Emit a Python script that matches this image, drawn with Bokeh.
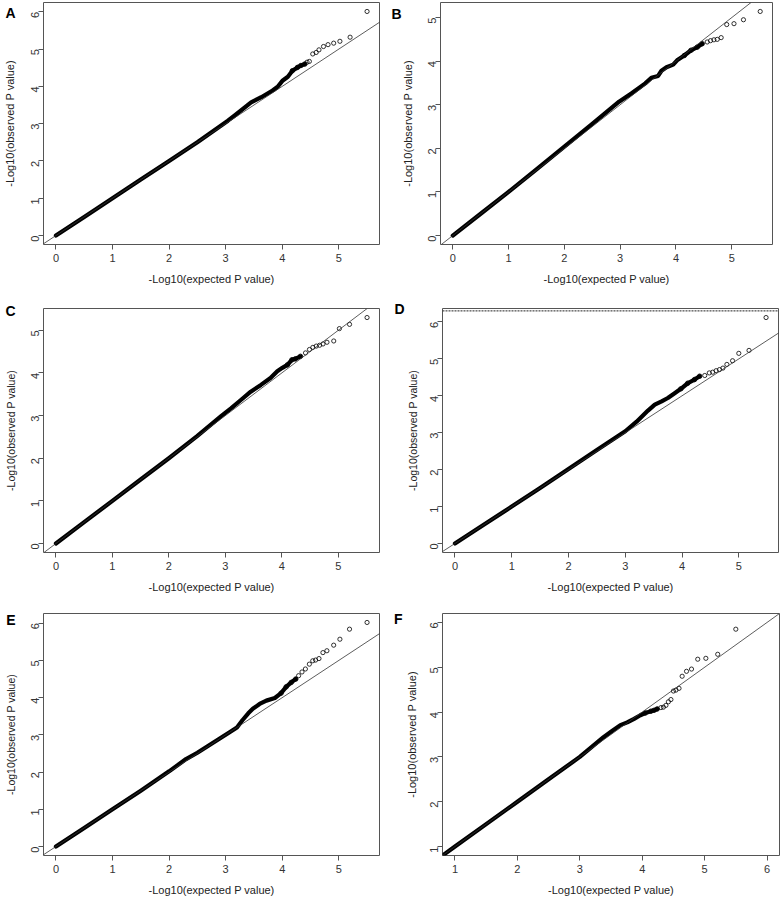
import math
from bokeh.plotting import figure
from bokeh.layouts import column, row
from bokeh.models import Slope, Span, Range1d, LinearAxis, FixedTicker, CustomJSTickFormatter
from bokeh.embed import file_html
from bokeh.resources import INLINE

FONT = "Liberation Sans"
X_TITLE = "-Log10(expected P value)"
Y_TITLE = "-Log10(observed P value)"

# ---------------- data ----------------
# dense part of each QQ curve (overlapping points) and sparse upper tail
a_body_exp = [0.0, 0.5, 1.0, 1.5, 2.0, 2.5, 3.04, 3.16, 3.45, 3.63, 3.83, 3.92, 4.01, 4.10, 4.18, 4.27, 4.33, 4.40]
a_body_obs = [0.0, 0.5, 1.0, 1.5, 2.0, 2.5, 3.08, 3.22, 3.57, 3.71, 3.89, 3.99, 4.16, 4.26, 4.42, 4.51, 4.56, 4.60]
a_tail_exp = [4.44, 4.48, 4.54, 4.60, 4.65, 4.73, 4.81, 4.91, 5.02, 5.20, 5.50]
a_tail_obs = [4.65, 4.67, 4.87, 4.91, 4.98, 5.07, 5.12, 5.16, 5.21, 5.32, 6.01]

b_body_exp = [0.0, 0.5, 1.0, 1.5, 2.0, 2.5, 2.98, 3.20, 3.45, 3.56, 3.68, 3.74, 3.83, 3.95, 4.02, 4.15, 4.27, 4.38, 4.47]
b_body_obs = [0.0, 0.5, 1.0, 1.52, 2.04, 2.56, 3.07, 3.26, 3.49, 3.62, 3.66, 3.78, 3.86, 3.92, 4.02, 4.13, 4.25, 4.32, 4.40]
b_tail_exp = [4.56, 4.62, 4.68, 4.74, 4.81, 4.91, 5.04, 5.21, 5.51]
b_tail_obs = [4.44, 4.47, 4.49, 4.50, 4.54, 4.84, 4.86, 4.95, 5.14]

c_body_exp = [0.0, 0.5, 1.0, 1.5, 2.0, 2.5, 2.92, 3.10, 3.27, 3.45, 3.63, 3.80, 3.92, 4.01, 4.10, 4.18, 4.24, 4.33]
c_body_obs = [0.0, 0.5, 1.0, 1.5, 2.0, 2.52, 2.98, 3.17, 3.36, 3.56, 3.72, 3.88, 4.04, 4.12, 4.19, 4.31, 4.33, 4.39]
c_tail_exp = [4.42, 4.49, 4.55, 4.61, 4.67, 4.73, 4.80, 4.92, 5.02, 5.20, 5.51]
c_tail_obs = [4.47, 4.55, 4.60, 4.63, 4.65, 4.68, 4.72, 4.75, 5.04, 5.14, 5.30]

d_body_exp = [0.0, 0.5, 1.0, 1.5, 2.0, 2.5, 3.0, 3.20, 3.40, 3.52, 3.64, 3.75, 3.87, 3.98, 4.10, 4.22, 4.31]
d_body_obs = [0.0, 0.5, 1.0, 1.5, 2.02, 2.53, 3.04, 3.30, 3.60, 3.76, 3.85, 3.94, 4.07, 4.19, 4.34, 4.44, 4.53]
d_tail_exp = [4.40, 4.48, 4.54, 4.60, 4.66, 4.72, 4.79, 4.89, 5.00, 5.18, 5.48]
d_tail_obs = [4.55, 4.62, 4.64, 4.68, 4.71, 4.75, 4.85, 4.95, 5.15, 5.23, 6.12]
d_threshold = 6.3

e_body_exp = [0.0, 0.5, 1.0, 1.5, 2.0, 2.3, 2.5, 3.07, 3.20, 3.30, 3.40, 3.48, 3.60, 3.72, 3.87, 3.98, 4.07, 4.16, 4.24]
e_body_obs = [0.0, 0.5, 1.0, 1.5, 2.02, 2.35, 2.52, 3.07, 3.20, 3.40, 3.58, 3.70, 3.83, 3.92, 3.99, 4.12, 4.29, 4.41, 4.50]
e_tail_exp = [4.29, 4.35, 4.41, 4.48, 4.54, 4.59, 4.65, 4.72, 4.79, 4.91, 5.02, 5.19, 5.50]
e_tail_obs = [4.59, 4.69, 4.77, 4.90, 4.99, 5.01, 5.05, 5.21, 5.26, 5.41, 5.57, 5.84, 6.02]

f_body_exp = [0.82, 1.0, 1.5, 2.0, 2.5, 3.0, 3.38, 3.50, 3.65, 3.76, 3.87, 3.97, 4.05, 4.14, 4.19, 4.24]
f_body_obs = [0.82, 1.0, 1.5, 2.0, 2.5, 3.0, 3.44, 3.56, 3.71, 3.77, 3.85, 3.93, 3.98, 4.02, 4.04, 4.07]
f_tail_exp = [4.30, 4.34, 4.38, 4.42, 4.46, 4.50, 4.54, 4.59, 4.64, 4.71, 4.79, 4.89, 5.02, 5.21, 5.50]
f_tail_obs = [4.10, 4.11, 4.15, 4.23, 4.28, 4.47, 4.49, 4.53, 4.80, 4.91, 4.96, 5.18, 5.20, 5.29, 5.85]
f_limits = [1.0, 6.0]

ticks_0_5 = [0, 1, 2, 3, 4, 5]
ticks_0_6 = [0, 1, 2, 3, 4, 5, 6]
ticks_1_6 = [1, 2, 3, 4, 5, 6]


def r_range(lo, hi):
    pad = 0.04 * (hi - lo)
    return Range1d(lo - pad, hi + pad)


def panel(letter, bx, by, tx, ty, xlim, ylim, xticks, yticks,
          geom, ytitle_size, letter_style, ytitle_standoff):
    b_left, frame_w, b_right, b_top, frame_h, b_bottom = geom
    yr = r_range(*ylim)
    p = figure(frame_width=frame_w, frame_height=frame_h,
               x_range=r_range(*xlim), y_range=yr,
               output_backend="svg", toolbar_location=None,
               min_border_left=b_left, min_border_right=b_right,
               min_border_top=b_top, min_border_bottom=b_bottom)
    p.grid.visible = False
    p.outline_line_color = "#555555"
    p.outline_line_width = 1
    p.background_fill_color = "white"
    p.border_fill_color = "white"

    xax = p.xaxis[0]
    yax = p.yaxis[0]
    for ax in (xax, yax):
        ax.axis_line_color = None
        ax.major_tick_line_color = "#555555"
        ax.major_tick_in = 0
        ax.major_tick_out = 5
        ax.minor_tick_line_color = None
        ax.major_label_text_font = FONT
        ax.major_label_text_font_size = "11px"
        ax.major_label_text_color = "#333333"
        ax.axis_label_text_font = FONT
        ax.axis_label_text_font_style = "normal"
        ax.axis_label_text_color = "#222222"
    xax.ticker = FixedTicker(ticks=xticks)
    yax.ticker = FixedTicker(ticks=yticks)
    xax.axis_label = X_TITLE
    xax.axis_label_text_font_size = "11px"
    xax.major_label_standoff = 4
    xax.axis_label_standoff = 8
    yax.major_label_orientation = math.pi / 2
    yax.major_label_standoff = 3

    # outer left axis: carries the panel letter (one label near the top) and the y title
    letter_dy_px, letter_standoff = letter_style
    span = yr.end - yr.start
    letter_at = yr.end - letter_dy_px * span / frame_h
    outer = LinearAxis(ticker=FixedTicker(ticks=[letter_at]),
                       formatter=CustomJSTickFormatter(code="return '%s'" % letter),
                       axis_line_color=None, major_tick_line_color=None,
                       major_tick_in=0, major_tick_out=0,
                       minor_tick_line_color=None,
                       major_label_standoff=letter_standoff,
                       major_label_orientation="horizontal",
                       major_label_text_font=FONT, major_label_text_font_size="14px",
                       major_label_text_font_style="bold", major_label_text_color="black",
                       axis_label=Y_TITLE, axis_label_text_font=FONT,
                       axis_label_text_font_size=ytitle_size,
                       axis_label_text_font_style="normal",
                       axis_label_text_color="#222222",
                       axis_label_standoff=ytitle_standoff)
    p.add_layout(outer, "left")

    p.add_layout(Slope(gradient=1, y_intercept=0, line_color="#333333", line_width=0.8))
    p.line(bx, by, line_width=4.2, line_color="black", line_cap="round", line_join="round")
    p.scatter(bx[-4:], by[-4:], marker="circle", size=4.5, fill_color=None,
              line_color="black", line_width=0.9)
    p.scatter(tx, ty, marker="circle", size=4.2, fill_color=None,
              line_color="black", line_width=0.8)
    return p


#          left, frame_w, right, top, frame_h, bottom
geom_a = (43, 336, 11, 2, 242, 54)
geom_b = (50, 332, 8, 2, 242, 54)
geom_c = (43, 336, 11, 10, 244, 51)
geom_d = (52, 336, 2, 10, 244, 51)
geom_e = (43, 336, 11, 10, 242, 43)
geom_f = (52, 337, 1, 10, 242, 43)

pa = panel("A", a_body_exp, a_body_obs, a_tail_exp, a_tail_obs,
           (0, max(a_tail_exp)), (0, max(a_tail_obs)), ticks_0_5, ticks_0_6,
           geom_a, "11px", (1.5, 9), -14)
pb = panel("B", b_body_exp, b_body_obs, b_tail_exp, b_tail_obs,
           (0, max(b_tail_exp)), (0, max(b_tail_obs)), ticks_0_5, ticks_0_5,
           geom_b, "11px", (1, 20), -26)
pc = panel("C", c_body_exp, c_body_obs, c_tail_exp, c_tail_obs,
           (0, max(c_tail_exp)), (0, max(c_tail_obs)), ticks_0_5, ticks_0_5,
           geom_c, "10.5px", (2.5, 9), -15)
pd = panel("D", d_body_exp, d_body_obs, d_tail_exp, d_tail_obs,
           (0, max(d_tail_exp)), (0, max(d_tail_obs)), ticks_0_5, ticks_0_6,
           geom_d, "10.5px", (0.5, 19), -28)
pd.add_layout(Span(location=d_threshold, dimension="width", line_color="#222222",
                   line_width=1, line_dash="2 1"))
pe = panel("E", e_body_exp, e_body_obs, e_tail_exp, e_tail_obs,
           (0, max(e_tail_exp)), (0, max(e_tail_obs)), ticks_0_5, ticks_0_6,
           geom_e, "10.5px", (6, 9), -14)
pf = panel("F", f_body_exp, f_body_obs, f_tail_exp, f_tail_obs,
           tuple(f_limits), tuple(f_limits), ticks_1_6, ticks_1_6,
           geom_f, "11px", (5.5, 21), -27)

layout = column(row(pa, pb, spacing=0), row(pc, pd, spacing=0), row(pe, pf, spacing=0), spacing=0)

open("out.html", "w").write(file_html(layout, INLINE))
